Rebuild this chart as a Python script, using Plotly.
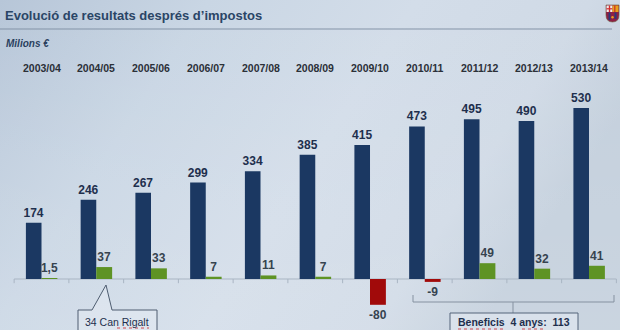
import base64
import plotly.graph_objects as go

# ---- data -------------------------------------------------------------
seasons = ["2003/04", "2004/05", "2005/06", "2006/07", "2007/08", "2008/09",
           "2009/10", "2010/11", "2011/12", "2012/13", "2013/14"]
ingressos = [174, 246, 267, 299, 334, 385, 415, 473, 495, 490, 530]
resultat = [1.5, 37, 33, 7, 11, 7, -80, -9, 49, 32, 41]
resultat_text = ["1,5", "37", "33", "7", "11", "7", "-80", "-9", "49", "32", "41"]

W, H = 620, 330
NAVY = "#1b3862"
GREEN = "#5e9324"
RED = "#a10a0a"

x = list(range(len(seasons)))

# pixel helpers (paper coordinates)
def px(v):
    return v / W

def py(v):
    return 1 - v / H

fig = go.Figure()

blue_font = dict(family="Liberation Sans", size=12, color="#1e2f4d")
fig.add_trace(go.Bar(
    x=x, y=ingressos, width=0.285, offset=-0.285,
    marker=dict(color=NAVY, line=dict(width=0)),
    text=["<b>%d</b>" % v for v in ingressos], textposition="outside",
    textfont=blue_font, outsidetextfont=blue_font,
    constraintext="none", cliponaxis=False, hoverinfo="skip",
))

green_font = dict(family="Liberation Sans", size=12, color="#36434f")
fig.add_trace(go.Bar(
    x=x, y=resultat, width=0.29, offset=0,
    marker=dict(color=[GREEN if v >= 0 else RED for v in resultat], line=dict(width=0)),
    text=["<b>%s</b>" % t for t in resultat_text], textposition="outside",
    textfont=green_font, outsidetextfont=green_font,
    constraintext="none", cliponaxis=False, hoverinfo="skip",
))

shapes = []
annotations = []

# baseline with dividers between seasons
shapes.append(dict(type="line", xref="x", yref="y", x0=-0.5, x1=len(seasons) - 0.5,
                   y0=0, y1=0, line=dict(color="#a9b5c3", width=1), layer="below"))
for i in range(len(seasons) + 1):
    shapes.append(dict(type="line", xref="x", yref="y", x0=i - 0.5, x1=i - 0.5,
                       y0=0, y1=-13, line=dict(color="#a9b5c3", width=1), layer="below"))

# season labels along the top
for i, s in enumerate(seasons):
    annotations.append(dict(x=i, y=py(68), xref="x", yref="paper", text="<b>%s</b>" % s,
                            showarrow=False, xanchor="center", yanchor="middle",
                            font=dict(family="Liberation Sans", size=10.5, color="#2b3038")))

# title, rule and unit
annotations.append(dict(x=px(3), y=py(16), xref="paper", yref="paper",
                        text="<b>Evolució de resultats després d’impostos</b>",
                        showarrow=False, xanchor="left", yanchor="middle",
                        font=dict(family="Liberation Sans", size=13, color="#2a4566")))
shapes.append(dict(type="line", xref="paper", yref="paper", x0=0, x1=px(612),
                   y0=py(29), y1=py(29), line=dict(color="#8393a7", width=1)))
annotations.append(dict(x=px(4), y=py(44), xref="paper", yref="paper",
                        text="<b><i>Milions €</i></b>",
                        showarrow=False, xanchor="left", yanchor="middle",
                        font=dict(family="Liberation Sans", size=10, color="#2a3f5e")))

# callout for 2004/05
callout = ("M {a},{bot} L {a},{top} L {b},{top} L {c},{apex} L {d},{top} L {e},{top} L {e},{bot} Z"
           .format(a=px(78), b=px(92), c=px(106), d=px(112), e=px(157),
                   top=py(310), apex=py(285), bot=py(334)))
shapes.append(dict(type="path", xref="paper", yref="paper", path=callout,
                   fillcolor="rgba(226,233,241,0.6)", line=dict(color="#4e5d70", width=1)))
annotations.append(dict(x=px(117), y=py(322), xref="paper", yref="paper",
                        text="34 Can Rigalt", showarrow=False,
                        xanchor="center", yanchor="middle",
                        font=dict(family="Liberation Sans", size=10.5, color="#1e2f4d")))

# bracket over the last four seasons
bx0, bx1, bym = px(413), px(614), py(302)
shapes.append(dict(type="path", xref="paper", yref="paper",
                   path="M {a},{t} L {a},{m} L {b},{m} L {b},{t}".format(a=bx0, b=bx1, t=py(295), m=bym),
                   line=dict(color="#8591a0", width=1)))
shapes.append(dict(type="line", xref="paper", yref="paper", x0=px(513), x1=px(513),
                   y0=bym, y1=py(313), line=dict(color="#8591a0", width=1)))
shapes.append(dict(type="rect", xref="paper", yref="paper", x0=px(450), x1=px(578),
                   y0=py(313), y1=py(334), fillcolor="rgba(226,233,241,0.6)",
                   line=dict(color="#55657a", width=1)))
annotations.append(dict(x=px(514), y=py(322), xref="paper", yref="paper",
                        text="<b>Beneficis  4 anys:  113</b>", showarrow=False,
                        xanchor="center", yanchor="middle",
                        font=dict(family="Liberation Sans", size=10.5, color="#1e2f4d")))

# spell-check squiggles under the box words
for x0, x1, yy in [(117, 149, 328), (458, 506, 329), (522, 546, 329)]:
    shapes.append(dict(type="line", xref="paper", yref="paper", x0=px(x0), x1=px(x1),
                       y0=py(yy), y1=py(yy), line=dict(color="#d0494f", width=1, dash="dot")))

# club crest, top right
shapes += [
    dict(type="path", xref="paper", yref="paper",
         path="M {a},{t} L {b},{t} L {b},{m} Q {b},{bt} {c},{bt} Q {a},{bt} {a},{m} Z".format(
             a=px(606), b=px(619), c=px(612.5), t=py(5), m=py(15), bt=py(22)),
         fillcolor="#8e1f45", line=dict(color="#6b5a3a", width=0.6)),
    dict(type="rect", xref="paper", yref="paper", x0=px(606.5), x1=px(612.5), y0=py(5.5), y1=py(12),
         fillcolor="#f1ecec", line=dict(width=0)),
    dict(type="rect", xref="paper", yref="paper", x0=px(608.8), x1=px(610.2), y0=py(5.5), y1=py(12),
         fillcolor="#d22a2a", line=dict(width=0)),
    dict(type="rect", xref="paper", yref="paper", x0=px(606.5), x1=px(612.5), y0=py(8.2), y1=py(9.4),
         fillcolor="#d22a2a", line=dict(width=0)),
    dict(type="rect", xref="paper", yref="paper", x0=px(612.5), x1=px(618.5), y0=py(5.5), y1=py(12),
         fillcolor="#e8a01c", line=dict(width=0)),
    dict(type="rect", xref="paper", yref="paper", x0=px(614.2), x1=px(615.4), y0=py(5.5), y1=py(12),
         fillcolor="#c9302a", line=dict(width=0)),
    dict(type="rect", xref="paper", yref="paper", x0=px(608.5), x1=px(610.5), y0=py(12.5), y1=py(20),
         fillcolor="#2a3a7a", line=dict(width=0)),
    dict(type="rect", xref="paper", yref="paper", x0=px(614.5), x1=px(616.5), y0=py(12.5), y1=py(19),
         fillcolor="#2a3a7a", line=dict(width=0)),
    dict(type="circle", xref="paper", yref="paper", x0=px(611.3), x1=px(613.7), y0=py(16), y1=py(18.4),
         fillcolor="#e8a01c", line=dict(width=0)),
]

# soft slide-style background
svg = """<svg xmlns='http://www.w3.org/2000/svg' width='620' height='330'>
<defs>
<linearGradient id='g' x1='0' y1='0' x2='1' y2='0.35'>
<stop offset='0' stop-color='#b7c6d8'/>
<stop offset='0.3' stop-color='#c9d6e4'/>
<stop offset='0.6' stop-color='#d3dde9'/>
<stop offset='0.85' stop-color='#d0dae6'/>
<stop offset='1' stop-color='#c3cfdc'/>
</linearGradient>
<linearGradient id='v' x1='0' y1='0' x2='0' y2='1'>
<stop offset='0' stop-color='#ffffff' stop-opacity='0'/>
<stop offset='0.6' stop-color='#ffffff' stop-opacity='0.08'/>
<stop offset='1' stop-color='#ffffff' stop-opacity='0.12'/>
</linearGradient>
</defs>
<rect width='620' height='330' fill='url(#g)'/>
<rect width='620' height='330' fill='url(#v)'/>
</svg>"""
bg = "data:image/svg+xml;base64," + base64.b64encode(svg.encode()).decode()

fig.update_layout(
    width=W, height=H, margin=dict(l=0, r=0, t=0, b=0),
    paper_bgcolor="#cbd7e4", plot_bgcolor="rgba(0,0,0,0)",
    barmode="overlay", showlegend=False,
    xaxis=dict(range=[-0.758, 10.566], visible=False, fixedrange=True),
    yaxis=dict(range=[-158.1, 864.8], visible=False, fixedrange=True),
    shapes=shapes, annotations=annotations,
    images=[dict(source=bg, xref="paper", yref="paper", x=0, y=1, sizex=1, sizey=1,
                 sizing="stretch", layer="below", xanchor="left", yanchor="top")],
    font=dict(family="Liberation Sans"),
)

fig.write_html("out.html", config=dict(displayModeBar=False))
